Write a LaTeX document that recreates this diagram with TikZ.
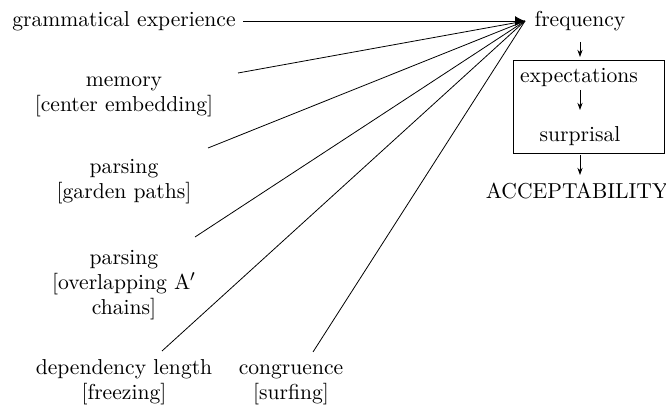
\documentclass[tikz,border=0pt]{standalone}
\usetikzlibrary{arrows.meta}
\begin{document}
\begin{tikzpicture}[x=0.5pt,y=-0.5pt,
  lbl/.style={inner sep=0pt,anchor=base,align=center,font=\fontsize{10.8}{12.6}\selectfont},
  feed/.style={line width=0.4pt},
  down/.style={line width=0.4pt,-{Stealth[length=3.6pt,width=2.6pt]}}]
\useasboundingbox (0,0) rectangle (666,411);

% influences on the left (base anchor sits on the last line)
\node[lbl] (gram) at (124,27) {grammatical experience};
\node[lbl] (mem) at (124,112) {memory\\{}[center embedding]};
\node[lbl] (garden) at (124,199) {parsing\\{}[garden paths]};
\node[lbl] (overlap) at (124,315) {parsing\\{}[overlapping A$'$\\chains]};
\node[lbl] (dep) at (124,400) {dependency length\\{}[freezing]};
\node[lbl] (cong) at (291,400) {congruence\\{}[surfing]};

% where the lines meet
\coordinate (hub) at (525,21);
\coordinate (gramend) at (243,21);
\coordinate (memend) at (238,73);
\coordinate (gardenend) at (208,148);
\coordinate (overlapend) at (195,237);
\coordinate (depend) at (162,351);
\coordinate (congend) at (313,352);

\draw[feed] (memend) -- (hub);
\draw[feed] (gardenend) -- (hub);
\draw[feed] (overlapend) -- (hub);
\draw[feed] (depend) -- (hub);
\draw[feed] (congend) -- (hub);
\draw[feed,-{Latex[length=5pt,width=5pt]}] (gramend) -- (hub);

% processing chain on the right
\node[lbl] (freq) at (580,27) {frequency};
\node[lbl] (expect) at (579,83) {expectations};
\node[lbl] (surp) at (580,142) {surprisal};
\node[lbl] (accept) at (577,199) {ACCEPTABILITY};
\draw[line width=0.5pt] (513,61) rectangle (664,154);
\coordinate (a1) at (580,42); \coordinate (b1) at (580,57);
\coordinate (a2) at (580,90); \coordinate (b2) at (580,110);
\coordinate (a3) at (580,155); \coordinate (b3) at (580,175);
\draw[down] (a1) -- (b1);
\draw[down] (a2) -- (b2);
\draw[down] (a3) -- (b3);
\end{tikzpicture}
\end{document}
